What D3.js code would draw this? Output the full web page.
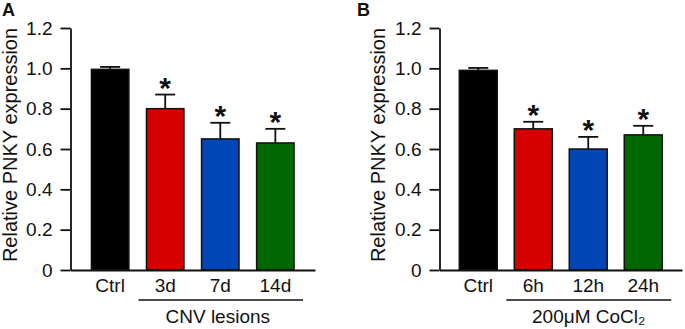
<!DOCTYPE html>
<html>
<head>
<meta charset="utf-8">
<script src="https://cdn.jsdelivr.net/npm/d3@7"></script>
<style>
  body { margin: 0; background: #fff; }
  text { font-family: "Liberation Sans", Arial, sans-serif; }
</style>
</head>
<body>
<svg id="chart"></svg>
<script>
// panel A: CNV lesions
const catsA = ["Ctrl", "3d", "7d", "14d"];
const meanA = [0.995, 0.80, 0.65, 0.63];
const errA = [0.012, 0.07, 0.08, 0.07];
const sigA = [false, true, true, true];

// panel B: CoCl2 treatment
const catsB = ["Ctrl", "6h", "12h", "24h"];
const meanB = [0.99, 0.70, 0.60, 0.67];
const errB = [0.012, 0.035, 0.06, 0.045];
const sigB = [false, true, true, true];

const yTicks = [0, 0.2, 0.4, 0.6, 0.8, 1.0, 1.2];
const yTickLabels = ["0", "0.2", "0.4", "0.6", "0.8", "1.0", "1.2"];
const barColors = ["#000000", "#d40000", "#0046b4", "#006600"];

const W = 685, H = 329;
const svg = d3.select("#chart").attr("width", W).attr("height", H);

const y = d3.scaleLinear().domain([0, 1.2]).range([270, 28]);

function drawPanel(opt) {
    const g = svg.append("g");
    const rows = opt.cats.map((c, i) => ({ cat: c, mean: opt.mean[i], err: opt.err[i], sig: opt.sig[i], color: barColors[i] }));

    const x = d3.scaleBand().domain(opt.cats)
        .range([opt.x0, opt.x1])
        .paddingInner(opt.pi)
        .paddingOuter(opt.po);

    // y axis
    const yAxis = g.append("g")
        .attr("transform", `translate(${opt.x0},0)`)
        .call(d3.axisLeft(y).tickValues(yTicks)
            .tickFormat((d, i) => yTickLabels[i])
            .tickSize(10).tickSizeOuter(0).tickPadding(8));
    yAxis.selectAll("path, line").attr("stroke", "#111").attr("stroke-width", 1.8);
    yAxis.selectAll("text").attr("font-size", 19).attr("fill", "#111")
        .style("font-family", "'Liberation Sans', Arial, sans-serif");

    // bars
    g.selectAll(".bar").data(rows).enter().append("rect")
        .attr("class", "bar")
        .attr("x", d => x(d.cat))
        .attr("width", x.bandwidth())
        .attr("y", d => y(d.mean))
        .attr("height", d => y(0) - y(d.mean))
        .attr("fill", d => d.color)
        .attr("stroke", "#111")
        .attr("stroke-width", 1.5);

    // error bars (upper only)
    const eb = g.selectAll(".err").data(rows).enter().append("g").attr("class", "err")
        .attr("stroke", "#111").attr("stroke-width", 1.8);
    eb.append("line")
        .attr("x1", d => x(d.cat) + x.bandwidth() / 2)
        .attr("x2", d => x(d.cat) + x.bandwidth() / 2)
        .attr("y1", d => y(d.mean))
        .attr("y2", d => y(d.mean + d.err));
    eb.append("line")
        .attr("x1", d => x(d.cat) + x.bandwidth() / 2 - 10)
        .attr("x2", d => x(d.cat) + x.bandwidth() / 2 + 10)
        .attr("y1", d => y(d.mean + d.err))
        .attr("y2", d => y(d.mean + d.err));

    // significance stars
    g.selectAll(".star").data(rows.filter(d => d.sig)).enter().append("text")
        .attr("class", "star")
        .attr("x", d => x(d.cat) + x.bandwidth() / 2)
        .attr("y", d => y(d.mean + d.err) + 3)
        .attr("text-anchor", "middle")
        .attr("font-size", 30)
        .attr("font-weight", "bold")
        .attr("fill", "#111")
        .text("*");

    // x axis
    const xAxis = g.append("g")
        .attr("transform", `translate(0,${y(0)})`)
        .call(d3.axisBottom(x).tickSize(0).tickPadding(9));
    xAxis.select(".domain").attr("stroke", "#111").attr("stroke-width", 1.8);
    xAxis.selectAll("text").attr("font-size", 19).attr("fill", "#111")
        .style("font-family", "'Liberation Sans', Arial, sans-serif");

    // group bracket under treated bars
    const gx0 = x(opt.cats[1]) - 8;
    const gx1 = x(opt.cats[opt.cats.length - 1]) + x.bandwidth() + 9;
    g.append("line")
        .attr("x1", gx0).attr("x2", gx1)
        .attr("y1", 300).attr("y2", 300)
        .attr("stroke", "#111").attr("stroke-width", 1.5);
    g.append("text")
        .attr("x", (gx0 + gx1) / 2 + opt.groupShift)
        .attr("y", 323)
        .attr("text-anchor", "middle")
        .attr("font-size", 19)
        .attr("fill", "#111")
        .text(opt.group);

    // y axis title
    g.append("text")
        .attr("transform", `translate(${opt.titleX},145) rotate(-90)`)
        .attr("text-anchor", "middle")
        .attr("font-size", 20)
        .attr("fill", "#111")
        .text("Relative PNKY expression");

    // panel letter
    g.append("text")
        .attr("x", opt.letterX)
        .attr("y", 16)
        .attr("font-size", 18)
        .attr("font-weight", "bold")
        .attr("fill", "#111")
        .text(opt.letter);
}

drawPanel({ cats: catsA, mean: meanA, err: errA, sig: sigA, x0: 70.5, x1: 315, pi: 0.32, po: 0.38,
            group: "CNV lesions", groupShift: -3, titleX: 16.5, letter: "A", letterX: 2 });
drawPanel({ cats: catsB, mean: meanB, err: errB, sig: sigB, x0: 439.5, x1: 682, pi: 0.31, po: 0.36,
            group: "200μM CoCl₂", groupShift: 0, titleX: 385, letter: "B", letterX: 357 });
</script>
</body>
</html>
